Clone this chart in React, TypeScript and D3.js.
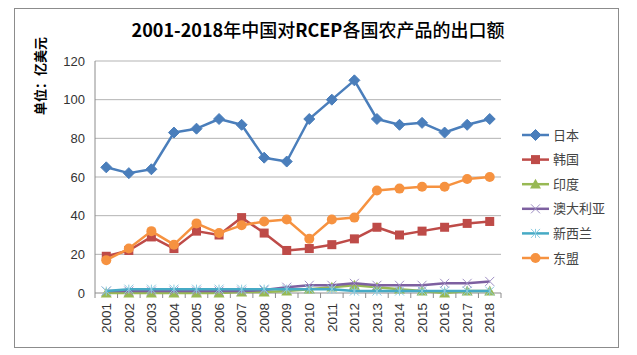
import React from "react";
import * as d3 from "d3";

const years = ["2001","2002","2003","2004","2005","2006","2007","2008","2009","2010","2011","2012","2013","2014","2015","2016","2017","2018"];
const japan = [65, 62, 64, 83, 85, 90, 87, 70, 68, 90, 100, 110, 90, 87, 88, 83, 87, 90];
const korea = [19, 22, 29, 23, 32, 30, 39, 31, 22, 23, 25, 28, 34, 30, 32, 34, 36, 37];
const india = [0, 0, 0, 0, 0, 0, 0.5, 0.5, 1, 2, 3, 4, 3, 2, 1, 0, 1, 1];
const australia = [1, 1, 1, 1, 1, 1, 1, 1.5, 3, 4, 4, 5, 4, 4, 4, 5, 5, 6];
const newZealand = [1, 2, 2, 2, 2, 2, 2, 2, 2, 2, 2, 1, 1, 1, 1, 1, 1, 1];
const asean = [17, 23, 32, 25, 36, 31, 35, 37, 38, 28, 38, 39, 53, 54, 55, 55, 59, 60];
const yTicks = [0, 20, 40, 60, 80, 100, 120];

const seriesNames = ["日本", "韩国", "印度", "澳大利亚", "新西兰", "东盟"];
const seriesValues = [japan, korea, india, australia, newZealand, asean];
const seriesColors = ["#4A7EBB", "#BE4B48", "#98B954", "#7D60A0", "#46AAC5", "#F69240"];
const seriesMarkers = ["diamond", "square", "triangle", "x", "star", "circle"];

const W = 637, H = 355;
const plot = { left: 95, right: 501, top: 61, bottom: 293 };

function Marker({ type, x, y, color }: { type: string; x: number; y: number; color: string }) {
  if (type === "diamond") {
    const s = 5.5;
    return <path d={`M${x},${y - s}L${x + s},${y}L${x},${y + s}L${x - s},${y}Z`} fill={color} stroke={color} strokeWidth={1} />;
  }
  if (type === "square") {
    return <rect x={x - 4.5} y={y - 4.5} width={9} height={9} fill={color} />;
  }
  if (type === "triangle") {
    const s = 5.5;
    return <path d={`M${x},${y - s}L${x + s},${y + s * 0.8}L${x - s},${y + s * 0.8}Z`} fill={color} />;
  }
  if (type === "x") {
    const s = 4.5;
    return <path d={`M${x - s},${y - s}L${x + s},${y + s}M${x - s},${y + s}L${x + s},${y - s}`} stroke="#9F8FC4" strokeWidth={1} fill="none" />;
  }
  if (type === "star") {
    const s = 4.5;
    return <path d={`M${x - s},${y - s}L${x + s},${y + s}M${x - s},${y + s}L${x + s},${y - s}M${x},${y - s}L${x},${y + s}`} stroke="#8ACBE0" strokeWidth={1} fill="none" />;
  }
  return <circle cx={x} cy={y} r={5} fill={color} />;
}

export default function App() {
  const x = d3.scaleBand<string>().domain(years).range([plot.left, plot.right]);
  const y = d3.scaleLinear().domain([0, 120]).range([plot.bottom, plot.top]);
  const cx = (yr: string) => (x(yr) as number) + x.bandwidth() / 2;
  const line = d3.line<number>().x((_, i) => cx(years[i])).y((d) => y(d));
  const font = "'Liberation Sans', 'Noto Sans CJK SC', sans-serif";
  const cjk = "'Noto Sans CJK SC', sans-serif";

  return (
    <svg width={W} height={H} style={{ position: "absolute", left: 0, top: 0 }} fontFamily={font}>
      <rect x={0} y={0} width={W} height={H} fill="#fff" />
      <rect x={14.5} y={8.5} width={604} height={339} fill="#fff" stroke="#8C8C8C" strokeWidth={1} />
      <text x={318} y={37} textAnchor="middle" fontSize={18} fill="#000" fontFamily={cjk}>
        <tspan fontWeight="bold">2001-2018</tspan>
        <tspan fontWeight="500">年中国对</tspan>
        <tspan fontWeight="bold">RCEP</tspan>
        <tspan fontWeight="500">各国农产品的出口额</tspan>
      </text>
      <text transform={`translate(45,76) rotate(-90)`} textAnchor="middle" fontSize={13} fontWeight="bold" fill="#000" fontFamily={cjk}>
        单位：亿美元
      </text>
      {yTicks.map((t) => (
        <g key={t}>
          {t > 0 && <line x1={plot.left} x2={plot.right} y1={y(t)} y2={y(t)} stroke="#B3B3B3" strokeWidth={1} />}
          <text x={plot.left - 10} y={y(t)} dy="0.35em" textAnchor="end" fontSize={13} fill="#333">{t}</text>
        </g>
      ))}
      <line x1={plot.left} x2={plot.left} y1={plot.top} y2={plot.bottom} stroke="#8C8C8C" />
      <line x1={plot.left} x2={plot.right} y1={plot.bottom} y2={plot.bottom} stroke="#8C8C8C" />
      {years.map((yr) => (
        <g key={yr}>
          <line x1={(x(yr) as number)} x2={(x(yr) as number)} y1={plot.bottom} y2={plot.bottom + 5} stroke="#8C8C8C" />
          <text transform={`translate(${cx(yr)},${plot.bottom + 10}) rotate(-90)`} textAnchor="end" dy="0.35em" fontSize={13.5} fill="#333">{yr}</text>
        </g>
      ))}
      <line x1={plot.right} x2={plot.right} y1={plot.bottom} y2={plot.bottom + 5} stroke="#8C8C8C" />
      {seriesValues.map((vals, si) => (
        <g key={si}>
          <path d={line(vals) as string} fill="none" stroke={seriesColors[si]} strokeWidth={2.5} strokeLinejoin="round" />
          {vals.map((v, i) => (
            <Marker key={i} type={seriesMarkers[si]} x={cx(years[i])} y={y(v)} color={seriesColors[si]} />
          ))}
        </g>
      ))}
      {seriesNames.map((n, i) => {
        const ly = 135 + i * 24.6;
        return (
          <g key={n}>
            <line x1={522} x2={549} y1={ly} y2={ly} stroke={seriesColors[i]} strokeWidth={2.5} />
            <Marker type={seriesMarkers[i]} x={535.5} y={ly} color={seriesColors[i]} />
            <text x={553} y={ly} dy="0.35em" fontSize={13} fill="#444" fontFamily={cjk}>{n}</text>
          </g>
        );
      })}
    </svg>
  );
}
